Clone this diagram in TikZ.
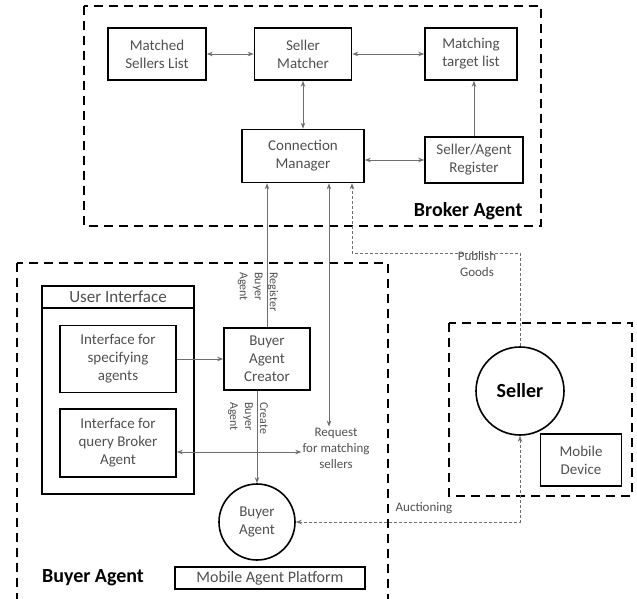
\documentclass[tikz,border=0pt]{standalone}
\usepackage{fontspec}
\setmainfont{Carlito}
\usepackage{xcolor}
\definecolor{boxtext}{RGB}{80,80,80}
\definecolor{wiregray}{RGB}{110,110,110}
\usetikzlibrary{arrows.meta, positioning}

\begin{document}
\begin{tikzpicture}[x=1pt, y=-1pt,
  agentarea/.style={draw, line width=2pt, dash pattern=on 9pt off 6pt},
  module/.style={draw, line width=1.6pt, text=boxtext, align=center, inner sep=0pt, font=\fontsize{15}{18}\selectfont},
  agentcircle/.style={draw, circle, line width=1.6pt, align=center, inner sep=0pt},
  wire/.style={draw=wiregray, line width=0.8pt, -{Stealth[length=6pt,width=4.5pt]}},
  dualwire/.style={wire, {Stealth[length=6pt,width=4.5pt]}-{Stealth[length=6pt,width=4.5pt]}},
  msgwire/.style={wire, dash pattern=on 3pt off 2pt},
  wirelabel/.style={text=boxtext, font=\fontsize{13}{16}\selectfont, inner sep=1pt},
  sidelabel/.style={text=boxtext, font=\fontsize{12}{15}\selectfont, rotate=-90, anchor=west, align=left, inner sep=0pt},
  arealabel/.style={font=\fontsize{20}{24}\selectfont\bfseries}]
  \useasboundingbox (0,0) rectangle (637,599);

  % broker agent
  \draw[agentarea] (84,6) rectangle (541,226);
  \node[module, minimum width=98, minimum height=52] (matched) at (157,54) {Matched\\Sellers List};
  \node[module, minimum width=97, minimum height=52] (matcher) at (303,54) {Seller\\Matcher};
  \node[module, minimum width=92, minimum height=52] (target) at (471,54) {Matching\\target list};
  \node[module, minimum width=122, minimum height=53] (connmgr) at (303,156) {Connection\\Manager};
  \node[module, minimum width=98, minimum height=46] (register) at (474,160) {Seller/Agent\\Register};
  \node[arealabel, anchor=east] (brokerlbl) at (526,211) {Broker Agent};

  % buyer agent
  \draw[agentarea] (17,263) rectangle (388,615);
  \node[draw, line width=1.6pt, minimum width=152, minimum height=208] (ui) at (118,390) {};
  \node[draw, line width=1.6pt, minimum width=152, minimum height=22, anchor=north, text=boxtext,
        font=\fontsize{17}{20}\selectfont, inner sep=0pt] (uihead) at (ui.north) {User Interface};
  \node[module, minimum width=116, minimum height=67] (spec) at (118,359) {Interface for\\specifying\\agents};
  \node[module, minimum width=116, minimum height=68] (query) at (118,443) {Interface for\\query Broker\\Agent};
  \node[module, minimum width=86, minimum height=62] (creator) at (267,359) {Buyer\\Agent\\Creator};
  \node[agentcircle, minimum size=76, text=boxtext, font=\fontsize{15}{18}\selectfont] (buyer) at (257,522) {Buyer\\Agent};
  \node[module, minimum width=190, minimum height=22, font=\fontsize{16}{18}\selectfont] (platform) at (270,578) {Mobile Agent Platform};
  \node[arealabel] (buyerlbl) at (93,578) {Buyer Agent};
  \node[wirelabel, align=center] (request) at (336,448) {Request\\for matching\\sellers};

  % seller
  \draw[agentarea] (449,323) rectangle (632,496);
  \node[agentcircle, minimum size=88, font=\fontsize{20}{24}\selectfont\bfseries] (seller) at (520,391) {Seller};
  \node[module, minimum width=81, minimum height=52] (device) at (581,460) {Mobile\\Device};

  % connectors
  \draw[dualwire] (matched) -- (matcher);
  \draw[dualwire] (matcher) -- (target);
  \draw[dualwire] (matcher) -- (matcher |- connmgr.north);
  \draw[wire] (register.north) -- (register.north |- target.south);
  \draw[dualwire] (register.west -| connmgr.east) -- (register.west);
  \draw[wire] (spec.east) -- (creator.west);
  \draw[wire] (creator.north) -- (creator.north |- connmgr.south);
  \node[sidelabel] (reglbl) at (258,272) {Register\\Buyer\\Agent};
  \draw[wire] (buyer.north |- creator.south) -- (buyer.north);
  \node[sidelabel] (createlbl) at (248,402) {Create\\Buyer\\Agent};
  \coordinate (reqx) at (329,0);
  \draw[dualwire] (connmgr.south -| reqx) -- (request.north -| reqx);
  \draw[dualwire] ([yshift=-9pt]query.east) -- ([yshift=-9pt]query.east -| request.west);
  \draw[msgwire] (seller.north) -- ++(0,-93) -| ([xshift=49pt]connmgr.south);
  \node[wirelabel, align=center] (publbl) at (477,264) {Publish\\Goods};
  \draw[msgwire, {Stealth[length=6pt,width=4.5pt]}-{Stealth[length=6pt,width=4.5pt]}] (seller.south) |- (buyer.east);
  \node[wirelabel] (auclbl) at (424,508) {Auctioning};
\end{tikzpicture}
\end{document}
